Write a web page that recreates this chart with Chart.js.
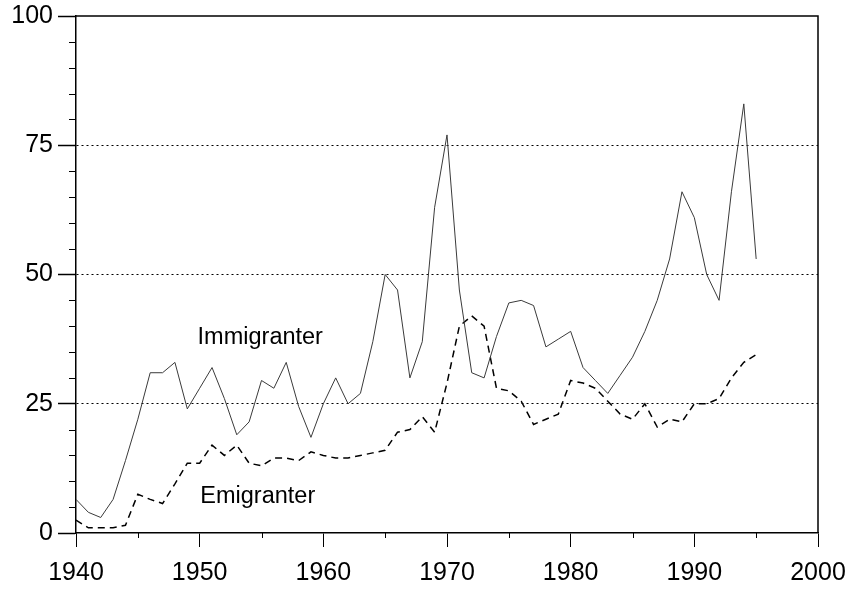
<!DOCTYPE html>
<html lang="en">
<head>
    <meta charset="UTF-8">
    <title>Immigranter og emigranter</title>
    <script src="https://cdn.jsdelivr.net/npm/chart.js"></script>
    <style>
        html, body { margin: 0; padding: 0; background: #fff; overflow: hidden; }
        #migChart { display: block; }
    </style>
</head>
<body>

<canvas id="migChart" width="853" height="592"></canvas>

<script>
    // Data (thousands, yearly)
    const years = [
        1940, 1941, 1942, 1943, 1944, 1945, 1946, 1947, 1948, 1949,
        1950, 1951, 1952, 1953, 1954, 1955, 1956, 1957, 1958, 1959,
        1960, 1961, 1962, 1963, 1964, 1965, 1966, 1967, 1968, 1969,
        1970, 1971, 1972, 1973, 1974, 1975, 1976, 1977, 1978, 1979,
        1980, 1981, 1982, 1983, 1984, 1985, 1986, 1987, 1988, 1989,
        1990, 1991, 1992, 1993, 1994, 1995
    ];
    const immigranter = [
        6.5, 4, 3, 6.5, 14, 22, 31, 31, 33, 24,
        28, 32, 26, 19, 21.5, 29.5, 28, 33, 24.5, 18.5,
        25, 30, 25, 27, 37, 50, 47, 30, 37, 63,
        77, 47, 31, 30, 38, 44.5, 45, 44, 36, 37.5,
        39, 32, 29.5, 27, 30.5, 34, 39, 45, 53, 66,
        61, 50, 45, 66, 83, 53
    ];
    const emigranter = [
        2.5, 1, 1, 1, 1.5, 7.5, 6.5, 5.7, 9.5, 13.5,
        13.5, 17, 15, 17, 13.5, 13, 14.5, 14.5, 14, 15.7,
        15, 14.5, 14.5, 15, 15.5, 16, 19.5, 20, 22.5, 19.5,
        29, 40, 42, 40, 28, 27.5, 25.5, 21, 22, 23,
        29.5, 29, 28, 25.5, 23, 22, 25, 20.5, 22, 21.5,
        25, 25, 26, 30, 33, 34.5
    ];
    const xTicks = [1940, 1950, 1960, 1970, 1980, 1990, 2000];
    const yTicks = [0, 25, 50, 75, 100];
    const seriesNames = ['Immigranter', 'Emigranter'];
    const nameYears = [1954.9, 1954.7];
    const nameValues = [37.9, 7.0];

    const tickFont = { family: 'Liberation Sans, Arial, sans-serif', size: 25 };

    // box round the plot, minor ticks and the two series names
    const decorations = {
        id: 'decorations',
        afterDraw(chart) {
            const ctx = chart.ctx;
            const a = chart.chartArea;
            const xs = chart.scales.x, ys = chart.scales.y;
            ctx.save();
            ctx.strokeStyle = '#000';
            ctx.lineWidth = 1.5;
            ctx.beginPath();
            ctx.moveTo(a.left, a.top);
            ctx.lineTo(a.right, a.top);
            ctx.lineTo(a.right, a.bottom);
            ctx.stroke();

            ctx.lineWidth = 1;
            ctx.beginPath();
            for (let v = ys.min; v <= ys.max; v += 5) {
                if (v % 25 === 0) continue;
                const py = Math.round(ys.getPixelForValue(v)) + 0.5;
                ctx.moveTo(a.left - 7, py);
                ctx.lineTo(a.left, py);
            }
            for (let v = xs.min + 5; v < xs.max; v += 10) {
                const px = Math.round(xs.getPixelForValue(v)) + 0.5;
                ctx.moveTo(px, a.bottom);
                ctx.lineTo(px, a.bottom + 5);
            }
            ctx.stroke();

            ctx.fillStyle = '#000';
            ctx.font = '23.5px Liberation Sans, Arial, sans-serif';
            ctx.textAlign = 'center';
            ctx.textBaseline = 'middle';
            seriesNames.forEach((name, i) => {
                ctx.fillText(name, xs.getPixelForValue(nameYears[i]), ys.getPixelForValue(nameValues[i]));
            });
            ctx.restore();
        }
    };

    const ctx = document.getElementById('migChart').getContext('2d');
    new Chart(ctx, {
        type: 'line',
        data: {
            datasets: [{
                label: seriesNames[0],
                data: years.map((y, i) => ({ x: y, y: immigranter[i] })),
                borderColor: '#3a3a3a',
                borderWidth: 1,
                pointRadius: 0,
                tension: 0
            }, {
                label: seriesNames[1],
                data: years.map((y, i) => ({ x: y, y: emigranter[i] })),
                borderColor: '#000',
                borderWidth: 1.5,
                borderDash: [7, 5],
                pointRadius: 0,
                tension: 0
            }]
        },
        plugins: [decorations],
        options: {
            responsive: false,
            animation: false,
            events: [],
            layout: { padding: { top: 16, right: 35, left: 0, bottom: 0 } },
            plugins: {
                legend: { display: false },
                tooltip: { enabled: false }
            },
            scales: {
                x: {
                    type: 'linear',
                    min: 1940,
                    max: 2000,
                    afterBuildTicks: scale => { scale.ticks = xTicks.map(v => ({ value: v })); },
                    afterFit: scale => {
                        scale.height = 59;
                        scale.paddingLeft = 0;
                        scale.paddingRight = 0;
                    },
                    border: { color: '#000', width: 1.5 },
                    grid: {
                        drawOnChartArea: false,
                        drawTicks: true,
                        tickLength: 14,
                        tickColor: '#000',
                        tickWidth: 1
                    },
                    ticks: {
                        color: '#000',
                        font: tickFont,
                        padding: 11,
                        maxRotation: 0,
                        autoSkip: false,
                        callback: v => String(v)
                    }
                },
                y: {
                    min: 0,
                    max: 100,
                    afterBuildTicks: scale => { scale.ticks = yTicks.map(v => ({ value: v })); },
                    afterFit: scale => {
                        scale.width = 76;
                        scale.paddingTop = 0;
                        scale.paddingBottom = 0;
                    },
                    border: { color: '#000', width: 1.5, dash: [2, 3] },
                    grid: {
                        color: c => (c.tick && c.tick.value > 0 && c.tick.value < 100) ? '#000' : 'rgba(0,0,0,0)',
                        lineWidth: 1,
                        drawTicks: true,
                        tickLength: 18,
                        tickColor: '#000',
                        tickWidth: 1.5
                    },
                    ticks: {
                        color: '#000',
                        font: tickFont,
                        padding: 5,
                        autoSkip: false,
                        callback: v => String(v)
                    }
                }
            }
        }
    });
</script>
</body>
</html>
